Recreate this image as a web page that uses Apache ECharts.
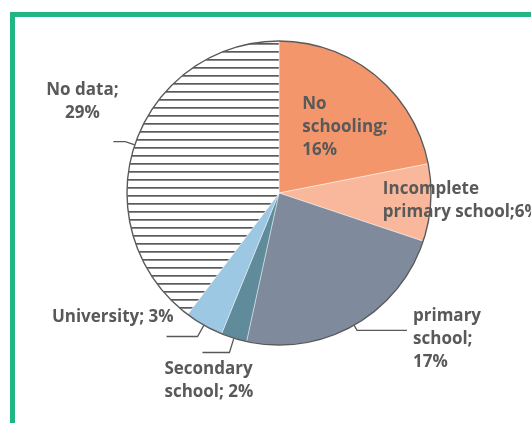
<!DOCTYPE html>
<html><head><meta charset="utf-8">
<script src="https://cdn.jsdelivr.net/npm/echarts@6/dist/echarts.min.js"></script>
<style>html,body{margin:0;padding:0;background:#fff}#c{width:531px;height:423px}</style>
</head><body><div id="c"></div>
<script>
// ---- data ----
const categories = ['No schooling', 'Incomplete primary school', 'primary school', 'Secondary school', 'University', 'No data'];
const values = [16, 6, 17, 2, 3, 29];
const labelNames = ['No\nschooling', 'Incomplete\nprimary school', 'primary\nschool', 'Secondary\nschool', 'University', 'No data'];
const labelSeps = [';\n', ';', ';\n', '; ', '; ', ';\n'];

// ---- styles ----
const colors = ['#F4966C', '#F9B89B', '#7F8B9D', '#5F8B9B', '#9DC8E3', null];
const textColor = '#595959';
const FONT = '"Open Sans", "Liberation Sans", sans-serif';

// hatch pattern for "No data"
const pat = document.createElement('canvas');
pat.width = 8; pat.height = 8;
const pc = pat.getContext('2d');
pc.fillStyle = '#ffffff'; pc.fillRect(0, 0, 8, 8);
pc.fillStyle = '#5a5a5a'; pc.fillRect(0, 3, 8, 1.7);
const hatch = { image: pat, repeat: 'repeat' };

// per-label placement tweaks (relative to library-computed label anchors)
const labelCfg = [
  { inside: true, align: 'left', dx: -27, dy: -5 },
  { inside: true, align: 'left', dx: 25, dy: 3 },
  { len: 6, len2: 50, ox: 6, oy: -26, align: 'left', va: 'top' },
  { len: 15, len2: 27, ox: -38, oy: 5, align: 'left', va: 'top' },
  { len: 13, len2: 31, ox: 7, oy: -19, align: 'right', va: 'middle' },
  { len: 10, len2: 12, ox: -31, oy: -40, align: 'center', va: 'middle' }
];

const data = categories.map((n, i) => {
  const cfg = labelCfg[i];
  return {
    name: n,
    value: values[i],
    itemStyle: { color: colors[i] || hatch },
    label: { position: cfg.inside ? 'inside' : 'outside' },
    labelLine: cfg.inside ? { show: false } : { show: true, length: cfg.len, length2: cfg.len2 }
  };
});

const chart = echarts.init(document.getElementById('c'), null, { renderer: 'canvas' });
chart.setOption({
  animation: false,
  backgroundColor: '#fff',
  graphic: [{
    type: 'rect', z: 100,
    shape: { x: 12.5, y: 14.5, width: 700, height: 600 },
    style: { fill: 'none', stroke: '#22B585', lineWidth: 5 }
  }],
  series: [{
    type: 'pie',
    center: [279, 193],
    radius: [0, 152],
    startAngle: 90,
    clockwise: true,
    avoidLabelOverlap: false,
    itemStyle: { borderColor: 'rgba(255,255,255,0.7)', borderWidth: 0.6 },
    label: {
      show: true,
      color: textColor,
      fontFamily: FONT,
      fontWeight: 'bold',
      fontSize: 17,
      lineHeight: 23,
      formatter: p => labelNames[p.dataIndex] + labelSeps[p.dataIndex] + p.value + '%'
    },
    labelLine: { lineStyle: { color: textColor, width: 1.3 }, smooth: false },
    labelLayout: function (params) {
      const cfg = labelCfg[params.dataIndex];
      if (cfg.inside) {
        return { align: cfg.align, dx: cfg.dx, dy: cfg.dy };
      }
      const pts = params.labelLinePoints;
      const end = pts[pts.length - 1];
      return {
        x: end[0] + cfg.ox,
        y: end[1] + cfg.oy,
        align: cfg.align,
        verticalAlign: cfg.va,
        labelLinePoints: pts
      };
    },
    emphasis: { disabled: true },
    data: data
  }, {
    type: 'pie',
    center: [279, 193],
    radius: [0, 152],
    silent: true,
    label: { show: false },
    labelLine: { show: false },
    itemStyle: { color: 'rgba(0,0,0,0)', borderColor: '#5a5a5a', borderWidth: 1.4 },
    emphasis: { disabled: true },
    data: [{ name: 'outline', value: 1 }]
  }]
});
</script></body></html>
